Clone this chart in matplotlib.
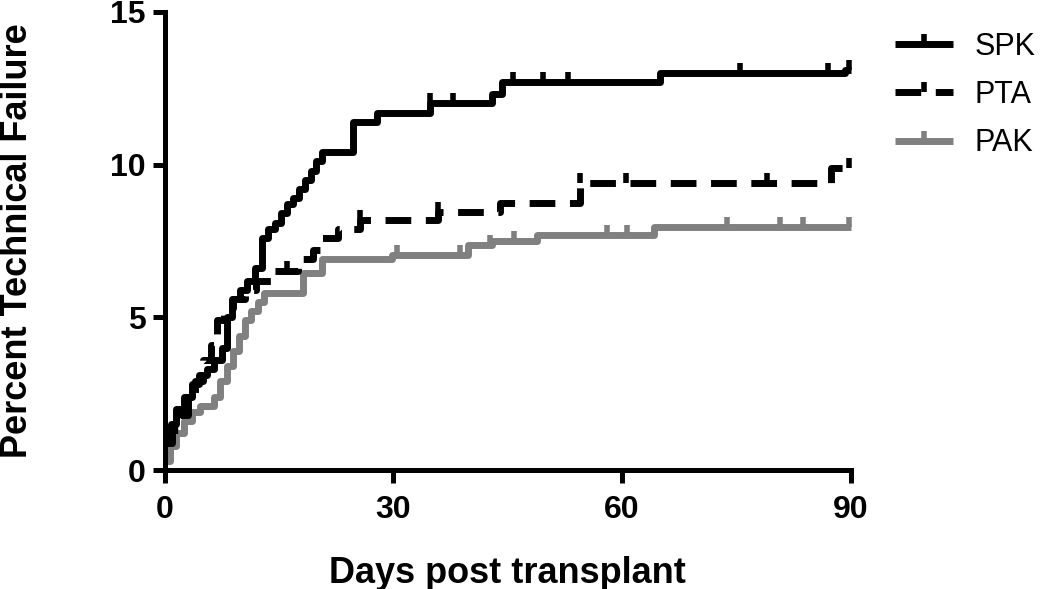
#Import Requirements
import matplotlib
matplotlib.use("Agg")
import matplotlib.pyplot as plt
from matplotlib.lines import Line2D

plt.rcParams['font.family'] = ['Liberation Sans', 'DejaVu Sans']

#Data (day of step, percent after step)
spk_days = [0, 0.8, 1.5, 2.5, 3.5, 4.5, 5.5, 6.5, 7.5, 8.2, 8.8, 9.8, 10.8, 11.8, 12.7,
            13.6, 14.4, 15.2, 16.0, 16.8, 17.6, 18.4, 19.2, 19.9, 20.6, 24.7, 27.8,
            34.8, 43.0, 44.2, 65.0, 89.3]
spk_pct = [1.1, 1.5, 2.0, 2.4, 2.8, 3.1, 3.3, 3.6, 4.0, 5.0, 5.6, 5.9, 6.2, 6.6, 7.6,
           7.9, 8.1, 8.4, 8.7, 8.9, 9.2, 9.5, 9.8, 10.1, 10.4, 11.4, 11.7,
           12.0, 12.3, 12.7, 13.0, 13.1]
spk_cens = [34.8, 37.8, 45.7, 49.7, 52.9, 75.5, 87.0, 89.8]

pta_days = [0, 1, 2, 3, 4, 5, 6, 6.8, 7.8, 9.0, 10.5, 12.0, 14.0, 17.5, 19.5, 20.6,
            22.7, 25.6, 35.9, 44.0, 54.5, 87.5]
pta_pct = [0.9, 1.3, 1.8, 2.3, 2.9, 3.6, 4.1, 4.9, 5.3, 5.6, 5.9, 6.2, 6.5, 6.9, 7.2, 7.6,
           7.9, 8.2, 8.45, 8.75, 9.4, 9.9]
pta_cens = [16.0, 25.6, 35.9, 54.5, 60.5, 79.0, 89.8]

pak_days = [0, 0.7, 1.5, 2.5, 3.5, 4.6, 6.5, 7.3, 8.1, 8.9, 9.7, 10.5, 11.3, 12.2, 13.0,
            18.1, 20.6, 29.8, 39.8, 43.0, 48.9, 64.2]
pak_pct = [0.3, 0.8, 1.2, 1.6, 1.9, 2.1, 2.4, 2.9, 3.4, 3.9, 4.4, 4.9, 5.2, 5.5, 5.8,
           6.45, 6.9, 7.05, 7.35, 7.5, 7.7, 7.95]
pak_cens = [30.5, 38.8, 42.7, 45.8, 58.0, 60.7, 73.8, 80.8, 83.8, 89.8]

labels = ["SPK", "PTA", "PAK"]

#Procedures
def value_at(days, pct, t):
    """Step value of a curve at time t"""
    v = pct[0]
    for d, p in zip(days, pct):
        if d <= t:
            v = p
    return v

#Graph Data
fig = plt.figure(figsize=(10.5, 5.89), dpi=100)
ax = fig.add_axes([0.157, 0.202, 0.653, 0.778])

lw = 5
series = [
    (spk_days, spk_pct, spk_cens, "black", "-"),
    (pta_days, pta_pct, pta_cens, "black", (0, (3.7, 2.1))),
    (pak_days, pak_pct, pak_cens, "#808080", "-"),
]
handles = []
for (days, pct, cens, col, ls), lab in zip(series[::-1], labels[::-1]):
    x = list(days) + [90]
    y = list(pct) + [pct[-1]]
    ax.step(x, y, where="post", color=col, lw=lw, ls=ls, solid_capstyle="butt",
            dash_capstyle="butt", clip_on=False)
    cy = [value_at(days, pct, t) for t in cens]
    ax.plot(cens, cy, ls="none", marker=2, ms=7, mew=4, color=col, clip_on=False)

for (days, pct, cens, col, ls), lab in zip(series, labels):
    handles.append(Line2D([], [], color=col, lw=lw, ls=ls, marker=2, ms=7, mew=4,
                          dash_capstyle="butt", solid_capstyle="butt", label=lab))

ax.set_xlim(0, 90)
ax.set_ylim(0, 15)
ax.set_xticks([0, 30, 60, 90])
ax.set_yticks([0, 5, 10, 15])
for s in ["top", "right"]:
    ax.spines[s].set_visible(False)
for s in ["left", "bottom"]:
    ax.spines[s].set_linewidth(3.6)
ax.tick_params(width=3.6, length=9, labelsize=23, pad=5)
ax.tick_params(axis="x", pad=9)
for t in ax.get_xticklabels() + ax.get_yticklabels():
    t.set_fontweight("bold")
ax.set_xlabel("Days post transplant", fontsize=26, fontweight="bold", labelpad=22)
ax.set_ylabel("Percent Technical Failure", fontsize=26, fontweight="bold", labelpad=54)

fig.legend(handles=handles, loc="upper left", bbox_to_anchor=(0.826, 0.993),
           frameon=False, fontsize=22, handlelength=1.9, handletextpad=0.7,
           labelspacing=0.6)

fig.savefig("out.png", dpi=100)
